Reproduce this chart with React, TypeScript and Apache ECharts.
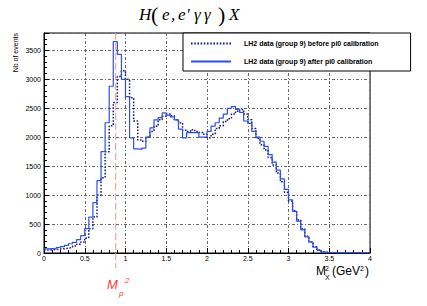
import React, { useEffect, useRef } from 'react';
import * as echarts from 'echarts';

// Histogram binning (80 bins of 0.05 GeV^2 from 0 to 4)
const BIN_START = 0;
const BIN_WIDTH = 0.05;

// Counts per bin, before pi0 calibration (dotted)
const beforeCalib = [
  50, 55, 60, 70, 75, 85, 95, 120, 150, 190,
  260, 420, 620, 1000, 1300, 1750, 2200, 2600, 3050, 3150,
  3000, 2680, 2280, 1950, 1930, 2000, 2100, 2190, 2300, 2360,
  2400, 2370, 2300, 2250, 2120, 2100, 2130, 2100, 2080, 2050,
  1990, 2050, 2150, 2200, 2270, 2320, 2400, 2450, 2480, 2400,
  2300, 2150, 1980, 1870, 1780, 1650, 1520, 1380, 1230, 1050,
  900, 730, 570, 420, 290, 190, 110, 50, 20, 8,
  3, 2, 1, 1, 0, 0, 0, 0, 0, 0,
];

// Counts per bin, after pi0 calibration (solid blue)
const afterCalib = [
  70, 75, 70, 95, 110, 130, 160, 185, 230, 300,
  420, 620, 870, 1250, 1750, 2250, 2880, 3650, 3430, 3000,
  2700, 1990, 1800, 1790, 1810, 2000, 2160, 2300, 2340, 2420,
  2380, 2350, 2300, 2140, 1990, 2080, 2080, 2080, 2000, 2000,
  2100, 2190, 2250, 2330, 2400, 2500, 2530, 2480, 2430, 2280,
  2240, 2100, 2000, 1930, 1840, 1700, 1570, 1430, 1280, 1100,
  920, 720, 550, 400, 280, 190, 100, 45, 15, 8,
  4, 3, 2, 1, 1, 0, 0, 0, 0, 0,
];

const SERIES_NAMES = [
  'LH2 data (group 9) before pi0 calibration',
  'LH2 data (group 9) after pi0 calibration',
];

const X_MIN = 0;
const X_MAX = 4;
const X_INTERVAL = 0.5;
const Y_MIN = 0;
const Y_MAX = 3800;
const Y_INTERVAL = 500;
const MP2 = 0.88; // proton mass squared

function toSteps(values: number[]) {
  const pts: number[][] = values.map((v, i) => [
    +(BIN_START + i * BIN_WIDTH).toFixed(3),
    v,
  ]);
  pts.push([+(BIN_START + values.length * BIN_WIDTH).toFixed(3), values[values.length - 1]]);
  return pts;
}

const SANS = 'Liberation Sans';
const SERIF = 'Liberation Serif';
const gridLine = { show: true, lineStyle: { color: '#666', width: 1, type: [3, 2, 1, 2] as any } };

const option: any = {
  animation: false,
  textStyle: { fontFamily: SANS },
  grid: {
    left: 44,
    right: 57,
    top: 33,
    bottom: 53,
    show: true,
    borderColor: '#000',
    borderWidth: 1,
    backgroundColor: 'transparent',
  },
  xAxis: {
    type: 'value',
    min: X_MIN,
    max: X_MAX,
    interval: X_INTERVAL,
    axisLine: { show: true, lineStyle: { color: '#000', width: 1 } },
    axisTick: { show: true, inside: true, length: 5, lineStyle: { color: '#000' } },
    minorTick: { show: true, splitNumber: 5, length: 3, lineStyle: { color: '#000' } },
    axisLabel: { fontSize: 7, color: '#000', margin: 2, fontFamily: SANS },
    splitLine: gridLine,
  },
  yAxis: {
    type: 'value',
    min: Y_MIN,
    max: Y_MAX,
    interval: Y_INTERVAL,
    axisLine: { show: true, lineStyle: { color: '#000', width: 1 } },
    axisTick: { show: true, inside: true, length: 5, lineStyle: { color: '#000' } },
    minorTick: { show: true, splitNumber: 5, length: 3, lineStyle: { color: '#000' } },
    axisLabel: {
      fontSize: 7,
      color: '#000',
      margin: 3,
      fontFamily: SANS,
      formatter: (v: number) => (v % Y_INTERVAL === 0 ? String(v) : ''),
    },
    splitLine: gridLine,
  },
  legend: {
    orient: 'vertical',
    left: 183,
    top: 33,
    padding: [7, 32, 6, 7],
    itemGap: 11,
    itemWidth: 40,
    itemHeight: 8,
    backgroundColor: '#fff',
    borderColor: '#000',
    borderWidth: 1,
    itemStyle: { opacity: 0 },
    textStyle: { fontSize: 7, fontWeight: 'bold', color: '#000', fontFamily: SANS, padding: [0, 0, 0, 8] },
    data: SERIES_NAMES,
  },
  series: [
    {
      name: SERIES_NAMES[0],
      type: 'line',
      step: 'end',
      symbol: 'none',
      data: toSteps(beforeCalib),
      lineStyle: { color: '#1c1c80', width: 1.5, type: [1.6, 1.6] },
      itemStyle: { color: '#1c1c80' },
      z: 2,
    },
    {
      name: SERIES_NAMES[1],
      type: 'line',
      step: 'end',
      symbol: 'none',
      data: toSteps(afterCalib),
      lineStyle: { color: '#2b4ff0', width: 1.2 },
      itemStyle: { color: '#2b4ff0' },
      z: 3,
    },
  ],
};

export default function App() {
  const ref = useRef<HTMLDivElement>(null);
  useEffect(() => {
    const chart = echarts.init(ref.current!, null, { renderer: 'svg' });
    chart.setOption(option);
    const xPx = chart.convertToPixel({ xAxisIndex: 0 }, MP2) as number;
    const yTop = chart.convertToPixel({ yAxisIndex: 0 }, Y_MAX) as number;
    const red = '#ff3a3a';
    const titleRich = {
      h: { fontSize: 17, fontStyle: 'italic', fontFamily: SERIF, width: 12 },
      lp: { fontSize: 22, fontFamily: SERIF, width: 11 },
      e1: { fontSize: 17, fontStyle: 'italic', fontFamily: SERIF, width: 9 },
      c: { fontSize: 17, fontStyle: 'italic', fontFamily: SERIF, width: 7 },
      e2: { fontSize: 17, fontStyle: 'italic', fontFamily: SERIF, width: 8 },
      q: { fontSize: 17, fontStyle: 'italic', fontFamily: SERIF, width: 8 },
      g1: { fontSize: 17, fontStyle: 'italic', fontFamily: SERIF, width: 10 },
      g2: { fontSize: 17, fontStyle: 'italic', fontFamily: SERIF, width: 14 },
      rp: { fontSize: 22, fontFamily: SERIF, width: 11 },
      x: { fontSize: 17, fontStyle: 'italic', fontFamily: SERIF },
    };
    chart.setOption({
      graphic: [
        {
          type: 'text',
          left: 139,
          top: 3,
          style: {
            text: "{h|H}{lp|(}{e1|e}{c|,}{e2|e}{q|'}{g1|γ}{g2|γ}{rp|)}{x|X}",
            rich: titleRich,
            fill: '#000',
          },
        },
        {
          type: 'text',
          x: 15,
          y: yTop,
          rotation: Math.PI / 2,
          style: {
            text: 'Nb of events',
            fontSize: 7,
            fontFamily: SANS,
            fill: '#000',
            textAlign: 'right',
            textVerticalAlign: 'middle',
          },
        },
        // x-axis title  M_X^2 (GeV^2)
        { type: 'text', x: 316, y: 277, style: { text: 'M', fontSize: 12, fontFamily: SANS, fill: '#000', textVerticalAlign: 'bottom' } },
        { type: 'text', x: 325, y: 272, style: { text: '2', fontSize: 7, fontFamily: SANS, fill: '#000', textVerticalAlign: 'bottom' } },
        { type: 'text', x: 325, y: 281, style: { text: 'X', fontSize: 7, fontFamily: SANS, fill: '#000', textVerticalAlign: 'bottom' } },
        { type: 'text', x: 332, y: 277, style: { text: '(GeV', fontSize: 12, fontFamily: SANS, fill: '#000', textVerticalAlign: 'bottom' } },
        { type: 'text', x: 360, y: 272, style: { text: '2', fontSize: 7, fontFamily: SANS, fill: '#000', textVerticalAlign: 'bottom' } },
        { type: 'text', x: 365, y: 277, style: { text: ')', fontSize: 12, fontFamily: SANS, fill: '#000', textVerticalAlign: 'bottom' } },
        // proton mass line
        {
          type: 'line',
          shape: { x1: xPx, y1: yTop, x2: xPx, y2: 268 },
          style: { stroke: '#f59090', lineWidth: 1, lineDash: [7, 3] },
          z: 1,
        },
        { type: 'text', x: 107, y: 291, style: { text: 'M', fontSize: 13, fontStyle: 'italic', fontFamily: SANS, fill: red, textVerticalAlign: 'bottom' } },
        { type: 'text', x: 119, y: 297, style: { text: 'p', fontSize: 8, fontStyle: 'italic', fontFamily: SANS, fill: red, textVerticalAlign: 'bottom' } },
        { type: 'text', x: 125, y: 284, style: { text: '2', fontSize: 8, fontStyle: 'italic', fontFamily: SANS, fill: red, textVerticalAlign: 'bottom' } },
      ],
    });
    return () => chart.dispose();
  }, []);
  return (
    <div
      ref={ref}
      style={{ position: 'fixed', left: 0, top: 0, width: 427, height: 306, background: '#fff' }}
    />
  );
}
